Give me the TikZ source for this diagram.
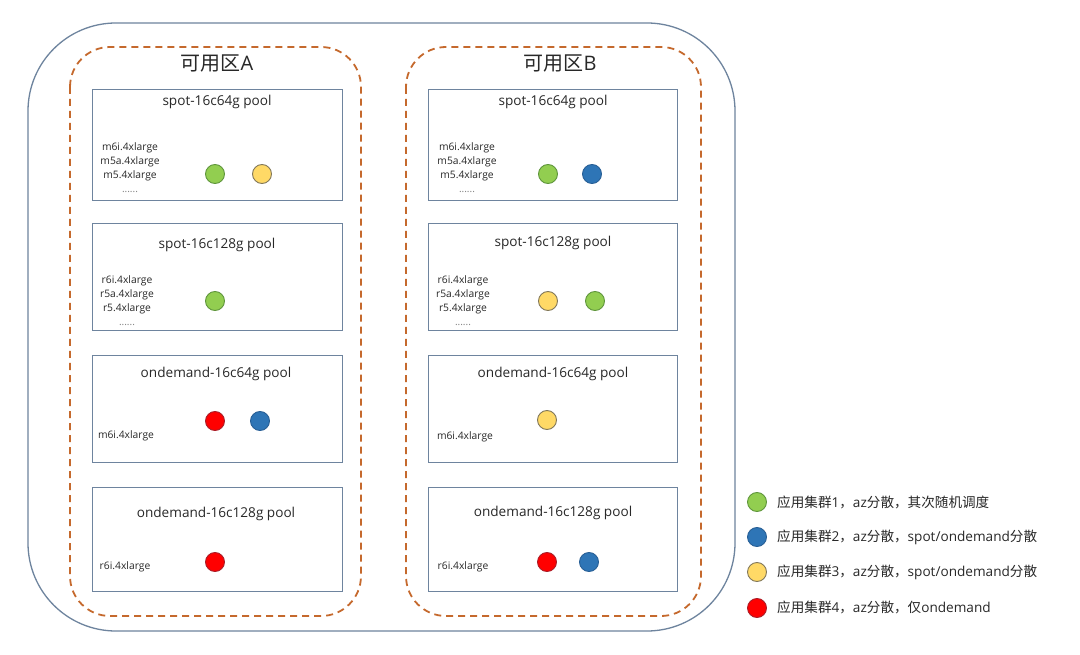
\documentclass[tikz,border=0pt]{standalone}
\usepackage{fontspec}
\setmainfont{Open Sans}
\newfontfamily\cjk{Noto Sans CJK SC}
\begin{document}
\begin{tikzpicture}[x=1pt,y=-1pt,
  boxc/.style={draw=boxline,line width=1.3pt},
  pool/.style={boxc,minimum width=250pt,anchor=north west,inner sep=0pt},
  ptitle/.style={font=\fontsize{13.6}{15}\selectfont,text=txt},
  inst/.style={font=\fontsize{10.3}{14}\selectfont,text=txt,align=center,inner sep=0pt},
  dot/.style={circle,minimum size=19pt,inner sep=0pt,line width=0.9pt},
  gdot/.style={dot,fill=cgreen,draw=cgreenD},
  bdot/.style={dot,fill=cblue,draw=cblueD},
  ydot/.style={dot,fill=cyellow,draw=cyellowD},
  rdot/.style={dot,fill=cred,draw=credD},
  zone/.style={draw=zoneC,line width=1.8pt,dash pattern=on 7pt off 5pt,rounded corners=40pt},
  legtxt/.style={font=\fontsize{13.6}{15}\selectfont,text=txt,anchor=west,inner sep=0pt}]
\definecolor{boxline}{RGB}{110,132,158}
\definecolor{outerC}{RGB}{110,132,158}
\definecolor{zoneC}{RGB}{197,105,45}
\definecolor{txt}{RGB}{40,40,40}
\definecolor{cgreen}{RGB}{146,206,80}
\definecolor{cgreenD}{RGB}{95,150,60}
\definecolor{cblue}{RGB}{46,117,182}
\definecolor{cblueD}{RGB}{40,95,150}
\definecolor{cyellow}{RGB}{255,217,102}
\definecolor{cyellowD}{RGB}{130,120,90}
\definecolor{cred}{RGB}{255,0,0}
\definecolor{credD}{RGB}{170,30,40}
\newcommand{\dotsline}{{\fontsize{10}{14}\selectfont\color{gray}......}}
\useasboundingbox[fill=white] (0,0) rectangle (1080,655);
% outer container
\draw[draw=outerC,line width=1.3pt,rounded corners=88pt] (28,23) rectangle (735,631);
% zones
\draw[zone] (70,47) rectangle (361,616);
\draw[zone] (406,47) rectangle (701,616);
\node[font=\fontsize{20}{22}\selectfont,text=txt] (tA) at (217,63) {{\cjk 可用区}A};
\node[font=\fontsize{20}{22}\selectfont,text=txt] (tB) at (560,63) {{\cjk 可用区}B};
% ---------- Zone A ----------
\node[pool,minimum height=111pt] (a1) at (92,89) {};
\node[ptitle] (a1t) at (217,102) {spot-16c64g pool};
\node[inst] (a1i) at (130,168) {m6i.4xlarge\\m5a.4xlarge\\m5.4xlarge\\\dotsline};
\node[gdot] (a1g) at (215,174) {};
\node[ydot] (a1y) at (262,174) {};

\node[pool,minimum height=107pt] (a2) at (92,223) {};
\node[ptitle] (a2t) at (217,245) {spot-16c128g pool};
\node[inst] (a2i) at (127,301) {r6i.4xlarge\\r5a.4xlarge\\r5.4xlarge\\\dotsline};
\node[gdot] (a2g) at (215,301) {};

\node[pool,minimum height=107pt] (a3) at (92,355) {};
\node[ptitle] (a3t) at (216,374) {ondemand-16c64g pool};
\node[inst] (a3i) at (126,436) {m6i.4xlarge};
\node[rdot] (a3r) at (215,421) {};
\node[bdot] (a3b) at (260,421) {};

\node[pool,minimum height=104pt] (a4) at (92,487) {};
\node[ptitle] (a4t) at (216,514) {ondemand-16c128g pool};
\node[inst] (a4i) at (125,567) {r6i.4xlarge};
\node[rdot] (a4r) at (215,562) {};
% ---------- Zone B ----------
\node[pool,minimum height=111pt,minimum width=249pt] (b1) at (428,89) {};
\node[ptitle] (b1t) at (553,102) {spot-16c64g pool};
\node[inst] (b1i) at (467,168) {m6i.4xlarge\\m5a.4xlarge\\m5.4xlarge\\\dotsline};
\node[gdot] (b1g) at (548,174) {};
\node[bdot] (b1b) at (592,174) {};

\node[pool,minimum height=107pt,minimum width=249pt] (b2) at (428,223) {};
\node[ptitle] (b2t) at (553,243) {spot-16c128g pool};
\node[inst] (b2i) at (463,301) {r6i.4xlarge\\r5a.4xlarge\\r5.4xlarge\\\dotsline};
\node[ydot] (b2y) at (548,301) {};
\node[gdot] (b2g) at (595,301) {};

\node[pool,minimum height=107pt,minimum width=249pt] (b3) at (428,355) {};
\node[ptitle] (b3t) at (553,374) {ondemand-16c64g pool};
\node[inst] (b3i) at (465,437) {m6i.4xlarge};
\node[ydot] (b3y) at (547,420) {};

\node[pool,minimum height=104pt,minimum width=249pt] (b4) at (428,487) {};
\node[ptitle] (b4t) at (553,513) {ondemand-16c128g pool};
\node[inst] (b4i) at (463,567) {r6i.4xlarge};
\node[rdot] (b4r) at (547,562) {};
\node[bdot] (b4b) at (589,562) {};
% ---------- Legend ----------
\node[gdot] (lg) at (757,502) {};
\node[legtxt] (lgt) at (777,502) {{\cjk 应用集群}1{\cjk ，}az{\cjk 分散，其次随机调度}};
\node[bdot] (lb) at (757,537) {};
\node[legtxt] (lbt) at (777,537) {{\cjk 应用集群}2{\cjk ，}az{\cjk 分散，}spot/ondemand{\cjk 分散}};
\node[ydot] (ly) at (757,572) {};
\node[legtxt] (lyt) at (777,572) {{\cjk 应用集群}3{\cjk ，}az{\cjk 分散，}spot/ondemand{\cjk 分散}};
\node[rdot] (lr) at (757,608) {};
\node[legtxt] (lrt) at (777,607) {{\cjk 应用集群}4{\cjk ，}az{\cjk 分散，仅}ondemand};
\end{tikzpicture}
\end{document}
